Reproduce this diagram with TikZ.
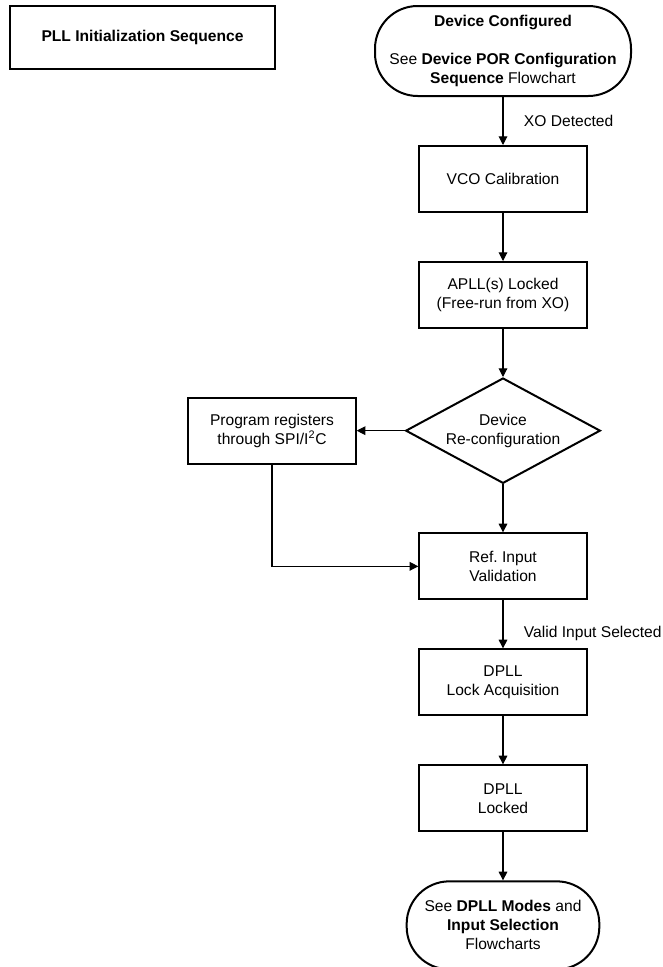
\documentclass[tikz,border=0pt]{standalone}
\usepackage{fontspec}
\setmainfont{Liberation Sans}
\usetikzlibrary{arrows.meta, positioning, shapes.geometric}

\begin{document}
\begin{tikzpicture}[
    x=0.75pt, y=-0.75pt,
    node distance=36pt and 36pt,
    every node/.style={align=center, font=\fontsize{11.7pt}{14.3pt}\selectfont},
    box/.style={draw, line width=1.5pt, minimum width=125.5pt, minimum height=49.5pt},
    term/.style={draw, line width=1.5pt, rounded corners=32pt},
    decision/.style={draw, line width=1.5pt, diamond, aspect=1.8, inner sep=0pt, minimum width=146pt, minimum height=79pt},
    >={Triangle[length=6.5pt, width=6.5pt]}
]
\useasboundingbox (0,0) rectangle (663,967);
\node[box, minimum width=198.5pt, minimum height=47.5pt] (title) at (142.5,37.5) {\textbf{PLL Initialization Sequence}};
\node[term, minimum width=192pt, minimum height=67.5pt] (cfg) at (503,51) {\textbf{Device Configured}\\[14.3pt]See \textbf{Device POR Configuration}\\\textbf{Sequence} Flowchart};
\node[box, below=of cfg] (vco) {VCO Calibration};
\node[box, below=of vco] (apll) {APLL(s) Locked\\(Free-run from XO)};
\node[decision, below=of apll] (reconf) {Device\\Re-configuration};
\node[box, left=of reconf] (prog) {Program registers\\through SPI/I\textsuperscript{2}C};
\node[box, below=of reconf] (ref) {Ref.\ Input\\Validation};
\node[box, below=of ref] (acq) {DPLL\\Lock Acquisition};
\node[box, below=of acq] (locked) {DPLL\\Locked};
\node[term, minimum width=144.5pt, minimum height=66pt, below=of locked] (modes) {See \textbf{DPLL Modes} and\\\textbf{Input Selection}\\Flowcharts};

\draw[->, thick] (cfg) -- node[right=12pt] {XO Detected} (vco);
\draw[->, thick] (vco) -- (apll);
\draw[->, thick] (apll) -- (reconf);
\draw[->, thick] (reconf) -- (prog);
\draw[->, thick] (reconf) -- (ref);
\draw[->, thick] (prog) |- (ref);
\draw[->, thick] (ref) -- node[right=12pt, pos=0.68] {Valid Input Selected} (acq);
\draw[->, thick] (acq) -- (locked);
\draw[->, thick] (locked) -- (modes);
\end{tikzpicture}
\end{document}
